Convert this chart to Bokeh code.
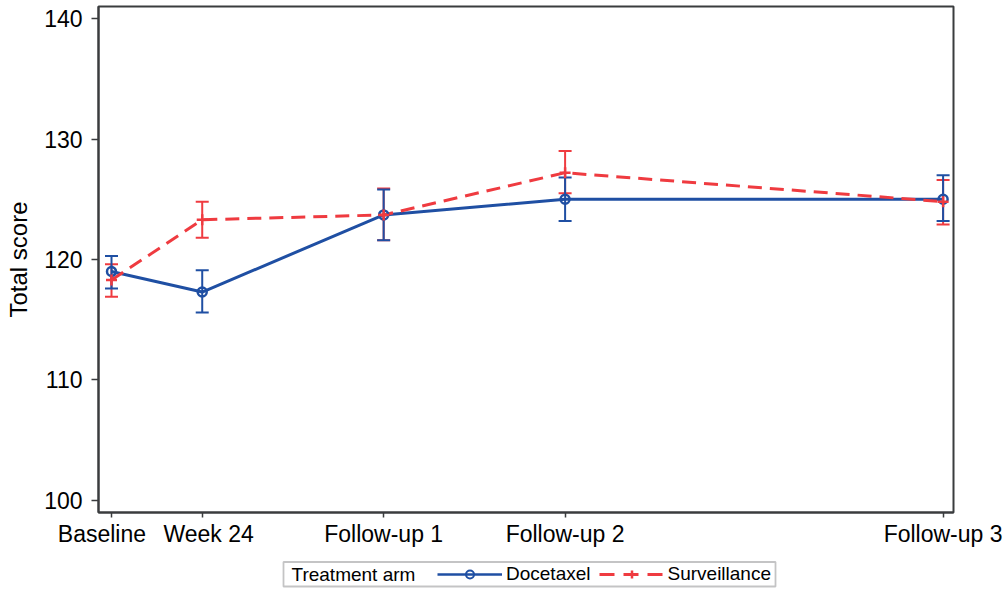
from bokeh.plotting import figure
from bokeh.layouts import column
from bokeh.models import (ColumnDataSource, Whisker, TeeHead, FixedTicker, Legend,
                          LegendItem, Range1d, Label, BoxAnnotation)
from bokeh.embed import file_html
from bokeh.resources import INLINE

# ---------------- data ----------------
categories = ["Baseline", "Week 24", "Follow-up 1", "Follow-up 2", "Follow-up 3"]
x_weeks = [0, 24, 72, 120, 220]

doc_mean = [119.0, 117.3, 123.7, 125.0, 125.0]
doc_lower = [117.6, 115.6, 121.6, 123.2, 123.2]
doc_upper = [120.3, 119.1, 125.8, 126.8, 127.0]

sur_mean = [118.3, 123.3, 123.7, 127.2, 124.8]
sur_lower = [116.9, 121.8, 121.6, 125.5, 122.9]
sur_upper = [119.6, 124.8, 125.9, 129.0, 126.6]

y_ticks = [100, 110, 120, 130, 140]

BLUE = "#1f4fa3"
RED = "#ef3b40"
FRAME = "#3a3c3e"
FONT = "Liberation Sans"
NB = "\u00a0"

doc_src = ColumnDataSource(dict(x=x_weeks, y=doc_mean, lower=doc_lower, upper=doc_upper))
sur_src = ColumnDataSource(dict(x=x_weeks, y=sur_mean, lower=sur_lower, upper=sur_upper))

p = figure(width=1004, height=550, output_backend="svg", toolbar_location=None,
           x_range=Range1d(-3.44, 222.75), y_range=Range1d(99.0, 141.0),
           min_border_left=98, min_border_right=51, min_border_top=6,
           min_border_bottom=38)

p.background_fill_color = "white"
p.border_fill_color = "white"
p.outline_line_color = FRAME
p.outline_line_width = 2
p.xgrid.visible = False
p.ygrid.visible = False

# axes
tick_text = [categories[0] + NB * 3, NB * 2 + categories[1]] + categories[2:]
p.xaxis.ticker = FixedTicker(ticks=x_weeks)
p.xaxis.major_label_overrides = {x: c for x, c in zip(x_weeks, tick_text)}
p.yaxis.ticker = FixedTicker(ticks=y_ticks)
for ax in (p.xaxis, p.yaxis):
    ax.axis_line_color = FRAME
    ax.axis_line_width = 2
    ax.major_tick_line_color = FRAME
    ax.major_tick_line_width = 1.5
    ax.major_tick_in = 0
    ax.minor_tick_line_color = None
    ax.major_label_text_font = FONT
    ax.major_label_text_font_size = "23px"
    ax.major_label_text_color = "black"
p.xaxis.major_tick_out = 5
p.xaxis.major_label_standoff = 3
p.yaxis.major_tick_out = 7
p.yaxis.major_label_standoff = 9
p.yaxis.axis_label = "Total score"
p.yaxis.axis_label_text_font = FONT
p.yaxis.axis_label_text_font_size = "24px"
p.yaxis.axis_label_text_font_style = "normal"
p.yaxis.axis_label_text_color = "black"
p.yaxis.axis_label_standoff = 9

# error bars
for src, col in ((sur_src, RED), (doc_src, BLUE)):
    w = Whisker(base="x", upper="upper", lower="lower", source=src, dimension="height",
                line_color=col, line_width=2,
                upper_head=TeeHead(size=13, line_color=col, line_width=2),
                lower_head=TeeHead(size=13, line_color=col, line_width=2))
    p.add_layout(w)

# lines and markers
LINE_KW = dict(line_color=BLUE, line_width=3)
DASH_KW = dict(line_color=RED, line_width=3, line_dash="14 8")
CIRC_KW = dict(marker="circle", size=9, fill_color=None, line_color=BLUE, line_width=2.5)
CROSS_KW = dict(marker="cross", size=11, line_color=RED, line_width=2.5)

p.line("x", "y", source=doc_src, **LINE_KW)
p.line("x", "y", source=sur_src, **DASH_KW)
p.scatter("x", "y", source=doc_src, **CIRC_KW)
p.scatter("x", "y", source=sur_src, **CROSS_KW)

# ---------------- legend strip ----------------
q = figure(width=1004, height=40, output_backend="svg", toolbar_location=None,
           x_range=Range1d(98, 953), y_range=Range1d(0, 40),
           x_axis_location=None, y_axis_location=None,
           min_border_left=98, min_border_right=51, min_border_top=0, min_border_bottom=0)
q.grid.visible = False
q.outline_line_color = None
q.background_fill_color = "white"
q.border_fill_color = "white"

# legend-only renderers (a single NaN row: nothing is drawn in the strip)
blank = ColumnDataSource(dict(x=[float("nan")], y=[float("nan")]))
ql1 = q.line("x", "y", source=blank, line_color=BLUE, line_width=2.5)
qm1 = q.scatter("x", "y", source=blank, marker="circle", fill_color=None,
                line_color=BLUE, line_width=2)
ql2 = q.line("x", "y", source=blank, line_color=RED, line_width=3, line_dash="15 9")
qm2 = q.scatter("x", "y", source=blank, marker="cross", line_color=RED, line_width=2.5)

q.add_layout(BoxAnnotation(left=283, right=775, bottom=4, top=28.5,
                           fill_color=None, line_color=FRAME, line_width=1.8))
q.add_layout(Label(x=291, y=16, text="Treatment arm", text_font=FONT,
                   text_font_size="19px", text_baseline="middle", text_align="left",
                   text_color="black"))

legend = Legend(items=[LegendItem(label="Docetaxel", renderers=[ql1, qm1]),
                       LegendItem(label="Surveillance", renderers=[ql2, qm2])],
                orientation="horizontal", location=(339, 5))
legend.label_text_font = FONT
legend.label_text_font_size = "19px"
legend.label_text_color = "black"
legend.label_standoff = 4
legend.glyph_width = 65
legend.glyph_height = 20
legend.label_height = 18
legend.spacing = 8
legend.padding = 0
legend.margin = 0
legend.border_line_color = None
legend.background_fill_alpha = 0
q.add_layout(legend)

root = column(p, q)
open("out.html", "w").write(file_html(root, INLINE))
